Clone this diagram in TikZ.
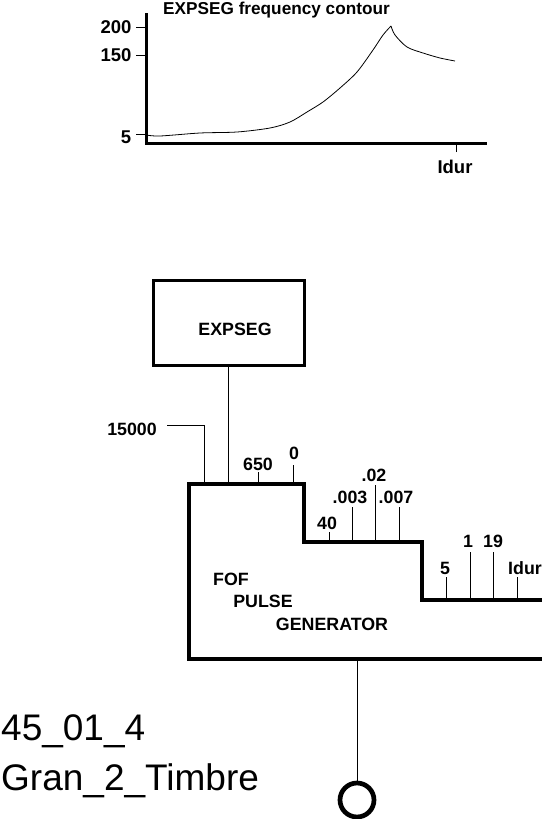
\documentclass[tikz,border=0pt]{standalone}
\usepackage{fontspec}
\setmainfont{Liberation Sans}
\begin{document}
\begin{tikzpicture}[x=1pt,y=-1pt,
  lbl/.style={font=\bfseries\fontsize{17.8}{18}\selectfont, inner sep=0pt},
  axlbl/.style={font=\bfseries\fontsize{18.5}{19}\selectfont, inner sep=0pt},
  titlelbl/.style={font=\bfseries\fontsize{17.2}{18}\selectfont, inner sep=0pt},
  biglbl/.style={font=\fontsize{37}{40}\selectfont, inner sep=0pt, anchor=base west},
  thinl/.style={line width=1pt},
  axisl/.style={line width=3pt},
  boxl/.style={line width=3pt},
  fofl/.style={line width=4pt},
  curvel/.style={line width=0.8pt},
  tickl/.style={line width=1pt}]
\useasboundingbox (0,0) rectangle (541,819);

% ---------- top graph ----------
\node[titlelbl, anchor=base] (title) at (276.5,14) {EXPSEG frequency contour};
\coordinate (ytop) at (146,13);
\coordinate (origin) at (146,143);
\coordinate (xend) at (487,143);
\draw[axisl] (ytop) -- (origin) -- (xend);

\node[axlbl] (l200) at (116,27) {200};
\node[axlbl] (l150) at (116,55) {150};
\node[axlbl] (l5) at (126,137) {5};
\coordinate (t200) at (136,27);
\coordinate (t150) at (136,55);
\coordinate (t5) at (136,134);
\draw[tickl] (t200) -- (t200 -| origin);
\draw[tickl] (t150) -- (t150 -| origin);
\draw[tickl] (t5) -- (t5 -| origin);
\coordinate (tidur) at (456,152);
\draw[tickl] (tidur) -- (tidur |- origin);
\node[axlbl] (lidur) at (455,167) {Idur};

\draw[curvel] plot[smooth, tension=0.5] coordinates {(146,135) (160,136) (200,133) (237,132) (270,128) (290,122) (307,112) (323,102) (340,88) (357,72) (373,50) (383,35) (391,26)};
\draw[curvel] plot[smooth, tension=0.5] coordinates {(391,26) (395,35) (407,47) (423,53) (440,58) (455,61)};

% ---------- EXPSEG box ----------
\node[boxl, draw, minimum width=151pt, minimum height=85pt, inner sep=0pt] (expseg) at (228.5,322.5) {};
\node[lbl] (expsegtxt) at (235,329) {EXPSEG};

% ---------- FOF box ----------
\coordinate (a) at (189,484);
\coordinate (b) at (304,484);
\coordinate (c) at (304,542);
\coordinate (d) at (422,542);
\coordinate (e) at (422,600);
\coordinate (f) at (545,600);
\coordinate (g) at (545,659);
\coordinate (h) at (189,659);
\draw[fofl] (f) -- (e) -- (d) -- (c) -- (b) -- (a) -- (h) -- (g);

\node[lbl] (fof1) at (231,579) {FOF};
\node[lbl] (fof2) at (263,601) {PULSE};
\node[lbl] (fof3) at (332,624) {GENERATOR};

% EXPSEG into FOF
\draw[thinl] (expseg.south) -- (expseg.south |- a);

% 15000
\node[lbl] (l15000) at (132,429) {15000};
\coordinate (c15a) at (167,425);
\coordinate (c15b) at (204,484);
\draw[thinl] (c15a) -| (c15b);

% tick labels on top level
\node[lbl] (l650) at (258,464) {650};
\coordinate (k650) at (258,472);
\draw[thinl] (k650) -- (k650 |- a);
\node[lbl] (l0) at (294,453) {0};
\coordinate (k0) at (293,465);
\draw[thinl] (k0) -- (k0 |- a);

% second level
\node[lbl] (l40) at (327,523) {40};
\coordinate (k40) at (329,532);
\draw[thinl] (k40) -- (k40 |- c);
\node[lbl] (l003) at (350,497) {.003};
\coordinate (k003) at (352,507);
\draw[thinl] (k003) -- (k003 |- c);
\node[lbl] (l02) at (374,475) {.02};
\coordinate (k02) at (375,485);
\draw[thinl] (k02) -- (k02 |- c);
\node[lbl] (l007) at (396,497) {.007};
\coordinate (k007) at (399,507);
\draw[thinl] (k007) -- (k007 |- c);

% third level
\node[lbl] (l5b) at (445,568) {5};
\coordinate (k5) at (446,577);
\draw[thinl] (k5) -- (k5 |- e);
\node[lbl] (l1) at (468,541) {1};
\coordinate (k1) at (470,552);
\draw[thinl] (k1) -- (k1 |- e);
\node[lbl] (l19) at (493,541) {19};
\coordinate (k19) at (493,552);
\draw[thinl] (k19) -- (k19 |- e);
\node[lbl] (lidur2) at (525,568) {Idur};
\coordinate (kidur) at (517,577);
\draw[thinl] (kidur) -- (kidur |- e);

% output
\node[draw, circle, line width=4.7pt, minimum size=34pt, inner sep=0pt] (out) at (357,800) {};
\draw[thinl] (out.north |- h) -- (out.north);

% ---------- bottom-left labels ----------
\node[biglbl] (name1) at (1,740) {45\_01\_4};
\node[biglbl] (name2) at (1,790) {Gran\_2\_Timbre};
\end{tikzpicture}
\end{document}
